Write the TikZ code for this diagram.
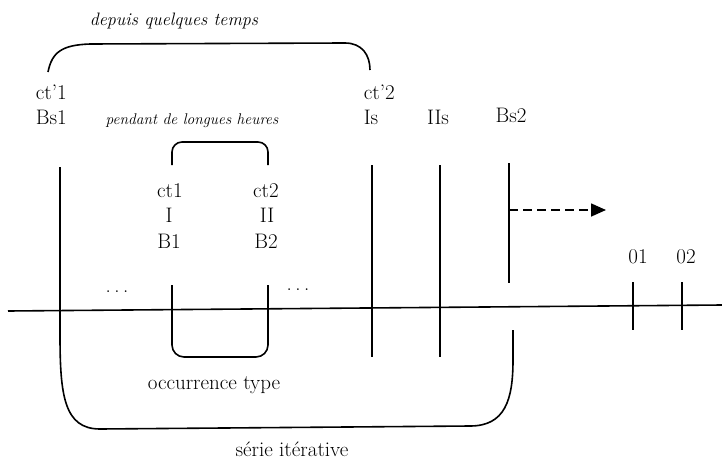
\documentclass[tikz,border=0pt]{standalone}
\usetikzlibrary{arrows.meta}
\begin{document}
\begin{tikzpicture}[x=1pt,y=-1pt,line width=1.6pt,
  lbl/.style={inner sep=0pt,anchor=base,font=\fontsize{21}{24}\selectfont},
  lblw/.style={lbl,anchor=base west},
  itbig/.style={inner sep=0pt,anchor=base,font=\fontsize{18}{20}\selectfont\itshape},
  itsmall/.style={inner sep=0pt,anchor=base,font=\fontsize{15.5}{18}\selectfont\itshape},
  dasharrow/.style={dash pattern=on 9pt off 5pt,-{Triangle[length=15pt,width=13pt]}}]
\useasboundingbox (0,0) rectangle (722,460);

% coordinates
\coordinate (axL) at (8,311);
\coordinate (axR) at (722,305);
\coordinate (bs1t) at (60,167);
\coordinate (ist) at (372,165);   \coordinate (isb) at (372,357);
\coordinate (iist) at (440,165);  \coordinate (iisb) at (440,357);
\coordinate (bs2t) at (509,163);  \coordinate (bs2b) at (509,283);
\coordinate (arS) at (509,210);   \coordinate (arE) at (606,210);
\coordinate (o1t) at (633,282);   \coordinate (o1b) at (633,330);
\coordinate (o2t) at (682,282);   \coordinate (o2b) at (682,330);
\coordinate (c1t) at (172,285);   \coordinate (c2t) at (268,285);
\coordinate (c1b) at (172,357);   \coordinate (c2b) at (268,357);

% axis
\draw (axL) -- (axR);

% top big bracket
\draw (48,72) .. controls (52,52) and (62,45) .. (90,44) -- (345,43)
      .. controls (362,43) and (370,55) .. (370,70);

% small top bracket
\draw[rounded corners=10pt] (172,165) -- (172,142) -- (268,142) -- (268,165);

% Bs1 line and série itérative bracket
\draw (bs1t) -- (60,335) .. controls (60,395) and (64,429) .. (100,429)
      -- (470,426) .. controls (505,426) and (513,400) .. (513,360) -- (513,330);

% occurrence type bracket
\draw[rounded corners=12pt] (c1t) -- (c1b) -- (c2b) -- (c2t);

% vertical marks
\draw (ist) -- (isb);
\draw (iist) -- (iisb);
\draw (bs2t) -- (bs2b);
\draw (o1t) -- (o1b);
\draw (o2t) -- (o2b);

% dashed arrow
\draw[dasharrow] (arS) -- (arE);

% labels
\node[itbig] (depuis) at (174,26) {depuis quelques temps};
\node[itsmall] (pendant) at (192,124) {pendant de longues heures};
\node[lblw] (ctp1) at (35,99) {ct'1};
\node[lblw] (bs1) at (35,124) {Bs1};
\node[lblw] (ctp2) at (363,99) {ct'2};
\node[lblw] (is) at (363,124) {Is};
\node[lbl] (iis) at (438,124) {IIs};
\node[lbl] (bs2) at (511,122) {Bs2};
\node[lbl] (ct1) at (170,197) {ct1};
\node[lbl] (i) at (169,222) {I};
\node[lbl] (b1) at (169,248) {B1};
\node[lbl] (ct2) at (266,197) {ct2};
\node[lbl] (ii) at (267,222) {II};
\node[lbl] (b2) at (266,248) {B2};
\node[lbl] (dotsL) at (117,292) {.\,.\,.};
\node[lbl] (dotsR) at (298,290) {.\,.\,.};
\node[lbl] (o1) at (638,263) {01};
\node[lbl] (o2) at (686,263) {02};
\node[lbl] (occ) at (214,389) {occurrence type};
\node[lbl] (serie) at (292,456) {série itérative};
\end{tikzpicture}
\end{document}
